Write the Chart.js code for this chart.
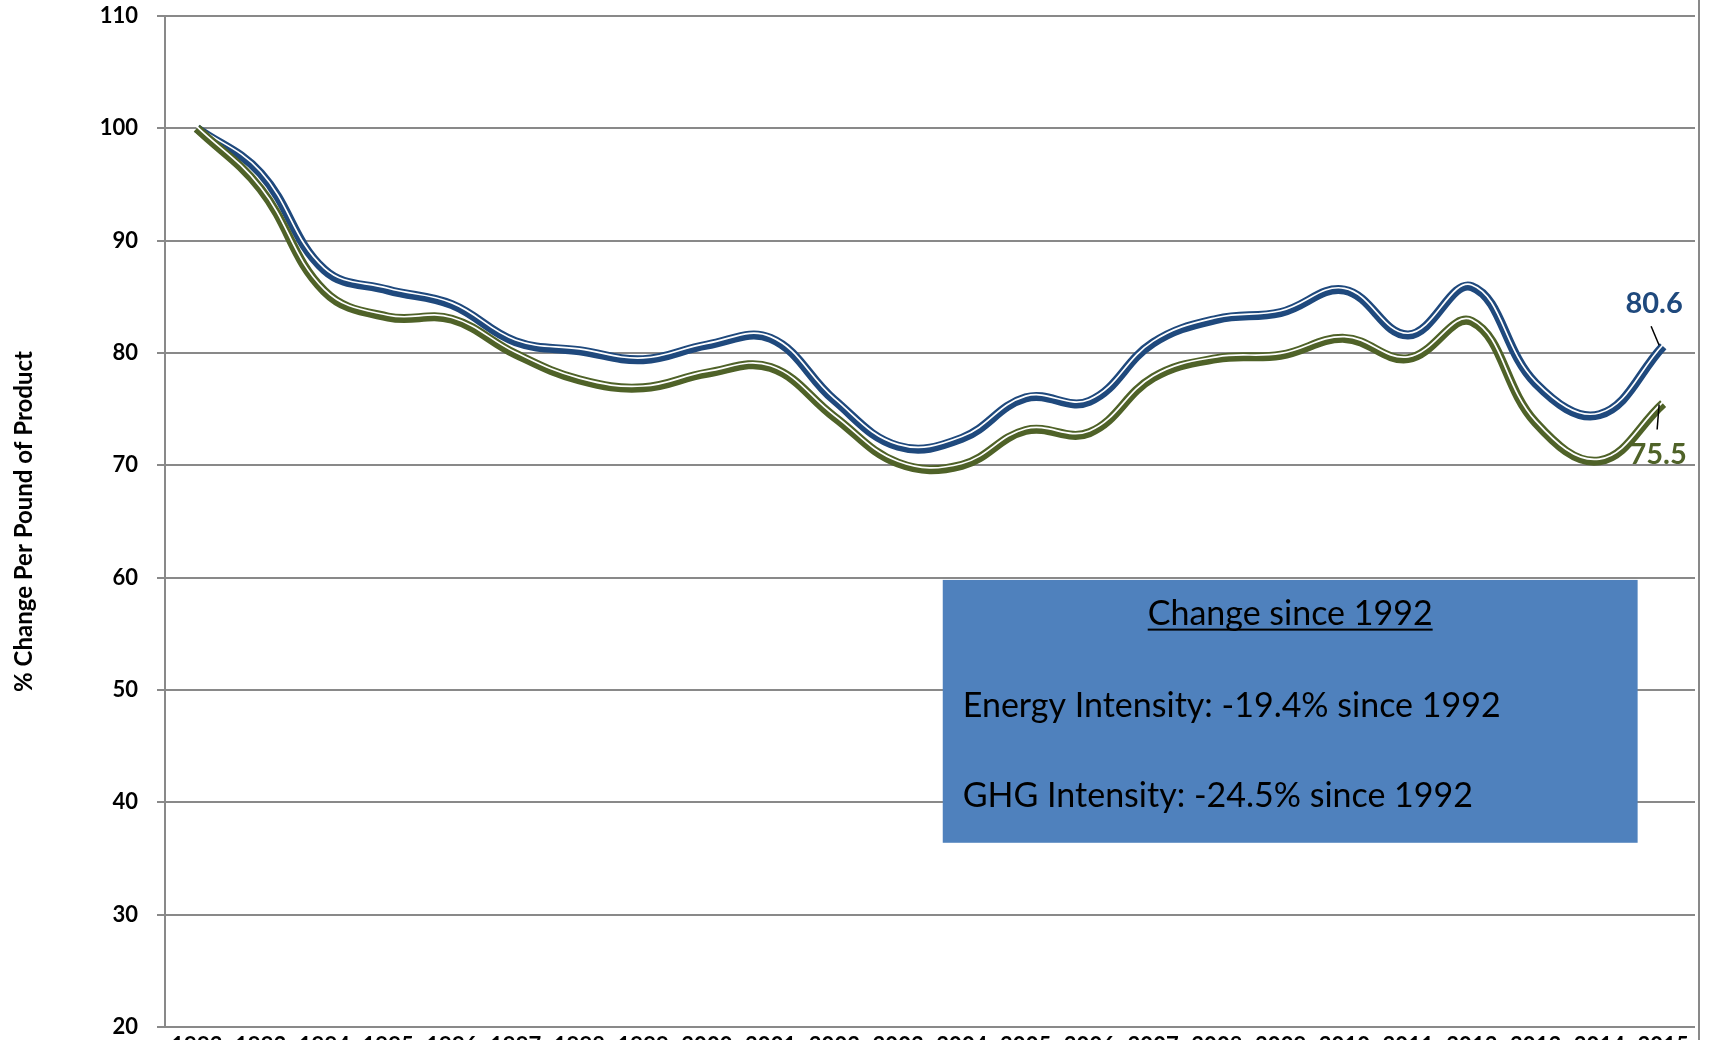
<!DOCTYPE html>
<html>
<head>
<meta charset="utf-8">
<script src="https://cdn.jsdelivr.net/npm/chart.js@4/dist/chart.umd.min.js"></script>
<style>
html, body { margin: 0; padding: 0; background: #fff; overflow: hidden; }
#wrap { position: relative; width: 1698px; height: 1067px; border-right: 2px solid #898989; }
</style>
</head>
<body>
<div id="wrap"><canvas id="myChart" width="1698" height="1067"></canvas></div>
<script>
/* DATOS */
const years = ["1992", "1993", "1994", "1995", "1996", "1997", "1998", "1999", "2000", "2001", "2002", "2003",
  "2004", "2005", "2006", "2007", "2008", "2009", "2010", "2011", "2012", "2013", "2014", "2015"];
const energyIntensity = [100, 96.0, 87.4, 85.6, 84.3, 81.0, 80.2, 79.4, 80.7, 81.3, 75.8, 71.7,
  72.4, 76.0, 75.7, 80.9, 83.0, 83.6, 85.6, 81.6, 85.9, 77.3, 74.5, 80.6];
const ghgIntensity = [100, 94.6, 85.5, 83.2, 83.0, 79.9, 77.6, 76.9, 78.2, 78.7, 74.3, 70.2,
  70.0, 73.1, 72.9, 77.8, 79.5, 79.8, 81.3, 79.5, 82.8, 73.8, 70.4, 75.5];
const yMin = 20;
const yMax = 110;
const yStep = 10;
const yTitle = "% Change Per Pound of Product";
const boxTitle = "Change since 1992";
const boxLines = ["Energy Intensity: -19.4% since 1992", "GHG Intensity: -24.5% since 1992"];

/* COLORES Y FUENTES */
const blue = "#1F497D";
const green = "#4F6228";
const gridColor = "#898989";
const fontFamily = "Lato, 'Open Sans', sans-serif";

/* CAJA DE TEXTO (en unidades de las escalas) */
const box = { x0: 11.7, x1: 22.6, yTop: 59.8, yBottom: 36.4, titleY: 56.8, lineY: [48.6, 40.6], color: "#4F81BD" };

/* LINEA DOBLE: la linea blanca fina va desplazada hacia arriba */
const doubleLine = {
  id: "doubleLine",
  beforeDatasetDraw(chart, args) {
    chart.ctx.save();
    if (chart.data.datasets[args.index].inner) {
      chart.ctx.translate(0, -1.8);
    }
  },
  afterDatasetDraw(chart) {
    chart.ctx.restore();
  }
};

/* ETIQUETAS FINALES Y CAJA */
const extras = {
  id: "extras",
  afterDatasetsDraw(chart) {
    const ctx = chart.ctx;
    const x = chart.scales.x;
    const y = chart.scales.y;

    // caja azul
    const left = x.getPixelForValue(box.x0);
    const right = x.getPixelForValue(box.x1);
    const top = y.getPixelForValue(box.yTop);
    const bottom = y.getPixelForValue(box.yBottom);
    ctx.save();
    ctx.fillStyle = box.color;
    ctx.fillRect(left, top, right - left, bottom - top);
    ctx.fillStyle = "#000";
    ctx.textBaseline = "middle";
    ctx.font = "34px " + fontFamily;
    ctx.textAlign = "center";
    const cx = (left + right) / 2;
    const ty = y.getPixelForValue(box.titleY);
    ctx.fillText(boxTitle, cx, ty);
    const tw = ctx.measureText(boxTitle).width;
    ctx.fillRect(cx - tw / 2, ty + 15, tw, 2);
    ctx.textAlign = "left";
    boxLines.forEach((t, i) => {
      ctx.fillText(t, left + 20, y.getPixelForValue(box.lineY[i]));
    });

    // etiquetas de los ultimos valores
    const specs = [
      { ds: 0, color: blue, lx: -9, ly: -43, l0: [-4, -1], l1: [-12, -20] },
      { ds: 2, color: green, lx: -5, ly: 51, l0: [-4, 1], l1: [-6, 26] }
    ];
    specs.forEach(s => {
      const meta = chart.getDatasetMeta(s.ds);
      const pt = meta.data[meta.data.length - 1];
      const values = chart.data.datasets[s.ds].data;
      ctx.strokeStyle = "#000";
      ctx.lineWidth = 1.5;
      ctx.beginPath();
      ctx.moveTo(pt.x + s.l0[0], pt.y + s.l0[1]);
      ctx.lineTo(pt.x + s.l1[0], pt.y + s.l1[1]);
      ctx.stroke();
      ctx.fillStyle = s.color;
      ctx.font = "bold 29px " + fontFamily;
      ctx.textAlign = "center";
      ctx.fillText(values[values.length - 1].toFixed(1), pt.x + s.lx, pt.y + s.ly);
    });
    ctx.restore();
  }
};

const tension = 0.4;

const config = {
  type: "line",
  data: {
    labels: years,
    datasets: [
      { label: "Energy Intensity", data: energyIntensity, borderColor: blue, borderWidth: 9, order: 4 },
      { label: "Energy inner", data: energyIntensity, borderColor: "#fff", borderWidth: 1.7, order: 3, inner: true },
      { label: "GHG Intensity", data: ghgIntensity, borderColor: green, borderWidth: 9, order: 2 },
      { label: "GHG inner", data: ghgIntensity, borderColor: "#fff", borderWidth: 1.7, order: 1, inner: true }
    ]
  },
  options: {
    responsive: false,
    animation: false,
    elements: {
      point: { radius: 0 },
      line: { tension: tension, fill: false, borderCapStyle: "butt", borderJoinStyle: "round" }
    },
    layout: { padding: { top: 16, right: 3, left: 0, bottom: 0 } },
    plugins: {
      legend: { display: false },
      tooltip: { enabled: false }
    },
    scales: {
      x: {
        offset: true,
        grid: { display: false, drawTicks: false },
        border: { display: false },
        ticks: { color: "#000", padding: 6, maxRotation: 0, autoSkip: false, font: { family: fontFamily, size: 22, weight: "bold" } },
        afterFit(scale) { scale.height = 40; }
      },
      y: {
        min: yMin,
        max: yMax,
        grid: { color: gridColor, lineWidth: 2, tickLength: 8 },
        border: { color: gridColor, width: 2 },
        ticks: { stepSize: yStep, color: "#000", padding: 19, font: { family: fontFamily, size: 22, weight: "bold" } },
        title: {
          display: true,
          text: yTitle,
          color: "#000",
          padding: { top: 10, bottom: 4 },
          font: { family: fontFamily, size: 24, weight: "bold" }
        },
        afterFit(scale) {
          scale.width = 165;
          scale.paddingTop = 0;
          scale.paddingBottom = 0;
        }
      }
    }
  },
  plugins: [doubleLine, extras]
};

const chart = new Chart(document.getElementById("myChart"), config);
</script>
</body>
</html>
